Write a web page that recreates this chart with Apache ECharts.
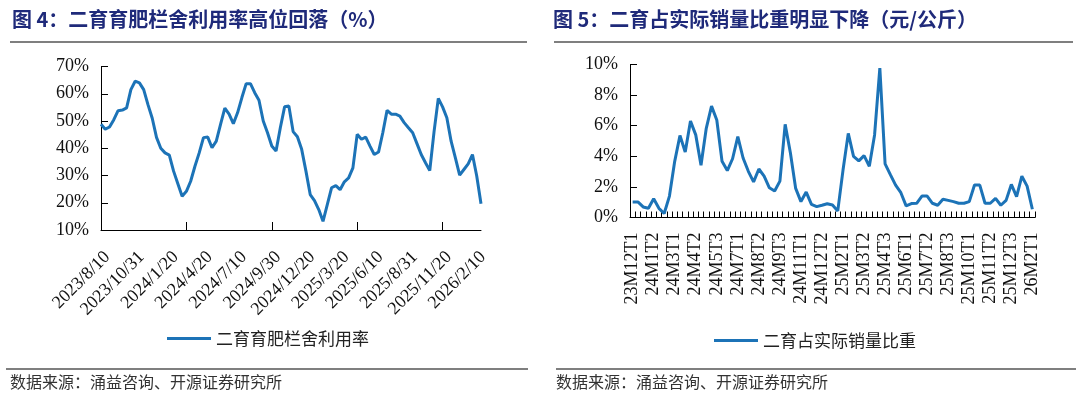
<!DOCTYPE html>
<html>
<head>
<meta charset="utf-8">
<script src="https://cdn.jsdelivr.net/npm/echarts@6/dist/echarts.min.js"></script>
<style>
  html, body { margin: 0; padding: 0; background: #fff; }
  #chart { width: 1080px; height: 398px; }
</style>
</head>
<body>
<div id="chart"></div>
<script>
// ── Data ────────────────────────────────────────────────────────────────────

// 图4: 二育育肥栏舍利用率 (%), one point per dekad, labels every 8 points
var leftTickLabels = ['2023/8/10', '2023/10/31', '2024/1/20', '2024/4/20', '2024/7/10', '2024/9/30',
  '2024/12/20', '2025/3/20', '2025/6/10', '2025/8/31', '2025/11/20', '2026/2/10'];
var leftValues = [
  48.8, 47.0, 47.8, 50.5, 53.8, 54.0, 54.8, 61.5, 64.6, 64.0,
  61.5, 56.0, 51.0, 44.0, 40.0, 38.3, 37.5, 31.6, 27.0, 22.4,
  24.2, 27.9, 33.4, 38.3, 43.9, 44.1, 40.2, 42.6, 48.8, 54.7,
  52.5, 49.0, 53.1, 58.6, 63.7, 63.7, 60.4, 57.6, 50.0, 45.7,
  40.8, 39.0, 47.5, 55.2, 55.5, 46.1, 44.2, 39.6, 31.6, 23.0,
  20.8, 17.5, 13.2, 19.3, 25.5, 26.3, 24.8, 27.7, 29.1, 32.8,
  45.1, 43.3, 44.1, 40.8, 37.7, 38.6, 45.7, 53.9, 52.5, 52.5,
  51.8, 49.4, 47.5, 45.7, 41.7, 37.7, 34.7, 31.8, 46.0, 58.3,
  55.2, 51.2, 42.6, 36.5, 30.1, 32.2, 34.3, 37.7, 29.8, 19.6
];

// 图5: 二育占实际销量比重 (%), one category per dekad, labels every 4
var rightTickLabels = ['23M12T1', '24M1T2', '24M3T1', '24M4T2', '24M5T3', '24M7T1', '24M8T2',
  '24M9T3', '24M11T1', '24M12T2', '25M2T1', '25M3T2', '25M4T3', '25M6T1', '25M7T2', '25M8T3',
  '25M10T1', '25M11T2', '25M12T3', '26M2T1'];
var rightValues = [
  1.02, 1.02, 0.69, 0.60, 1.23, 0.60, 0.26, 1.40, 3.67, 5.36,
  4.28, 6.30, 5.40, 3.41, 5.83, 7.28, 6.37, 3.67, 3.07, 3.84,
  5.29, 3.89, 3.02, 2.33, 3.17, 2.70, 1.94, 1.73, 2.38, 6.09,
  4.21, 1.90, 1.04, 1.66, 0.86, 0.71, 0.80, 0.90, 0.82, 0.43,
  3.10, 5.50, 4.00, 3.70, 4.04, 3.35, 5.40, 9.76, 3.50, 2.80,
  2.12, 1.62, 0.76, 0.91, 0.93, 1.40, 1.40, 0.93, 0.80, 1.19,
  1.12, 1.04, 0.93, 0.93, 1.04, 2.12, 2.12, 0.93, 0.93, 1.25,
  0.80, 1.12, 2.16, 1.36, 2.70, 2.05, 0.54
];

var leftName = '二育育肥栏舍利用率';
var rightName = '二育占实际销量比重';

// ── Styles ──────────────────────────────────────────────────────────────────

var LINE = '#1c73b7';
var TITLE = '#1f2a7a';
var SERIF = '"Liberation Serif", "Noto Sans CJK SC", serif';
var CJK = '"Noto Sans CJK SC", sans-serif';

function idx(n) {
  var a = [];
  for (var i = 0; i < n; i++) a.push(String(i));
  return a;
}

function yAxisBase(min, max, step, gridIndex) {
  return {
    type: 'value', gridIndex: gridIndex, min: min, max: max, interval: step,
    axisLine: { show: true, lineStyle: { color: '#000', width: 1 } },
    axisTick: { show: true, inside: true, length: 7, lineStyle: { color: '#000' } },
    splitLine: { show: false },
    axisLabel: { formatter: '{value}%', color: '#111', fontFamily: SERIF, fontSize: 18, margin: 12 }
  };
}

var chart = echarts.init(document.getElementById('chart'), null, { renderer: 'canvas' });

chart.setOption({
  backgroundColor: '#fff',
  animation: false,
  grid: [
    { left: 101, top: 66.5, width: 380, height: 163.5 },
    { left: 630, top: 64.5, width: 405, height: 153 }
  ],
  xAxis: [{
    type: 'category', gridIndex: 0, data: idx(leftValues.length), boundaryGap: false,
    axisLine: { lineStyle: { color: '#000', width: 1 } },
    axisTick: { show: true, inside: true, length: 8, interval: 19, lineStyle: { color: '#000' } },
    axisLabel: {
      interval: 7, rotate: 45, margin: 18, verticalAlign: 'top', color: '#111', fontFamily: SERIF, fontSize: 18,
      formatter: function (v, i) { return leftTickLabels[i / 8] || ''; }
    }
  }, {
    type: 'category', gridIndex: 1, data: idx(rightValues.length), boundaryGap: true,
    axisLine: { lineStyle: { color: '#000', width: 1 } },
    axisTick: { show: true, inside: true, length: 6, interval: 0, lineStyle: { color: '#000' } },
    axisLabel: {
      interval: 3, rotate: 90, margin: 15, color: '#111', fontFamily: SERIF, fontSize: 18,
      formatter: function (v, i) { return rightTickLabels[i / 4] || ''; }
    }
  }],
  yAxis: [yAxisBase(10, 70, 10, 0), yAxisBase(0, 10, 2, 1)],
  legend: [{
    data: [leftName], left: 162, top: 325, icon: 'rect', itemWidth: 44, itemHeight: 3,
    textStyle: { fontFamily: CJK, fontSize: 17, color: '#222' }
  }, {
    data: [rightName], left: 709, top: 327, icon: 'rect', itemWidth: 44, itemHeight: 3,
    textStyle: { fontFamily: CJK, fontSize: 17, color: '#222' }
  }],
  series: [{
    name: leftName, type: 'line', xAxisIndex: 0, yAxisIndex: 0, data: leftValues,
    symbol: 'none', itemStyle: { color: LINE }, lineStyle: { color: LINE, width: 3 }
  }, {
    name: rightName, type: 'line', xAxisIndex: 1, yAxisIndex: 1, data: rightValues,
    symbol: 'none', itemStyle: { color: LINE }, lineStyle: { color: LINE, width: 3 }
  }],
  graphic: [
    { type: 'text', left: 12, top: 9, style: { text: '图 4：二育育肥栏舍利用率高位回落（%）', fill: TITLE, font: 'bold 20px ' + CJK } },
    { type: 'text', left: 553, top: 9, style: { text: '图 5：二育占实际销量比重明显下降（元/公斤）', fill: TITLE, font: 'bold 20px ' + CJK } },
    { type: 'line', shape: { x1: 10, y1: 42, x2: 527, y2: 42 }, style: { stroke: '#7f7f7f', lineWidth: 2 } },
    { type: 'line', shape: { x1: 554, y1: 42, x2: 1073, y2: 42 }, style: { stroke: '#7f7f7f', lineWidth: 2 } },
    { type: 'line', shape: { x1: 6, y1: 369, x2: 528, y2: 369 }, style: { stroke: '#7f7f7f', lineWidth: 2 } },
    { type: 'line', shape: { x1: 556, y1: 369, x2: 1076, y2: 369 }, style: { stroke: '#7f7f7f', lineWidth: 2 } },
    { type: 'text', left: 10, top: 374, style: { text: '数据来源：涌益咨询、开源证券研究所', fill: '#333', font: '16px ' + CJK } },
    { type: 'text', left: 556, top: 374, style: { text: '数据来源：涌益咨询、开源证券研究所', fill: '#333', font: '16px ' + CJK } }
  ]
});

window.addEventListener('resize', function () { chart.resize(); });
</script>
</body>
</html>
